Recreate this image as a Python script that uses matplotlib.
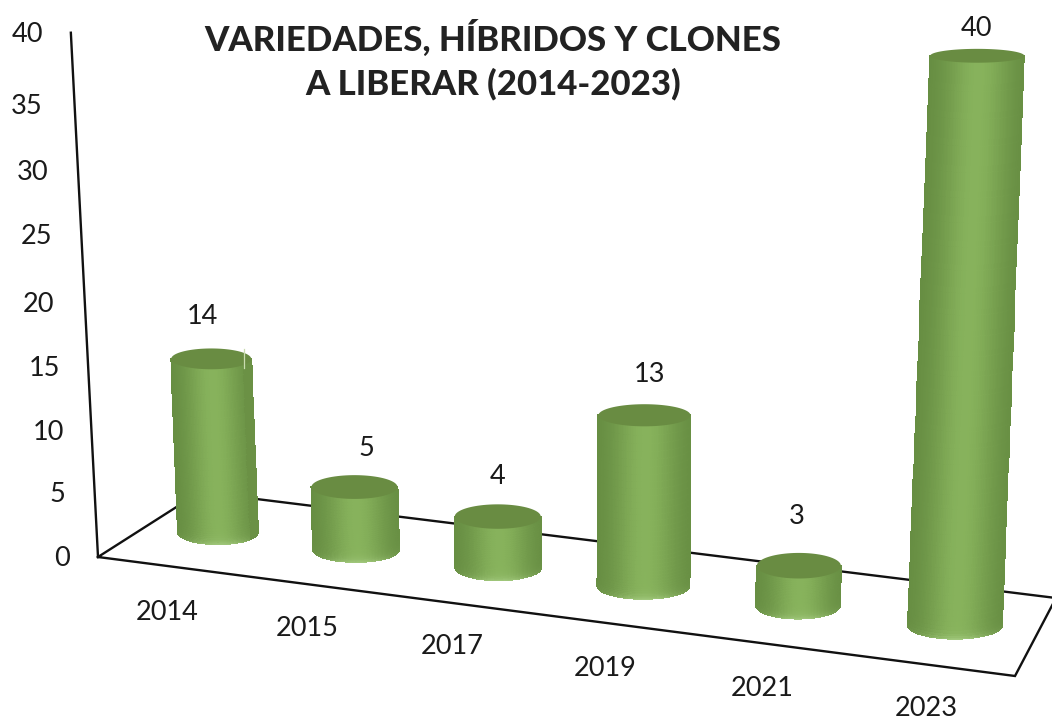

import numpy as np
import matplotlib
matplotlib.use('Agg')
import matplotlib.pyplot as plt

# chart data
years = ['2014', '2015', '2017', '2019', '2021', '2023']
values = [14, 5, 4, 13, 3, 40]
y_ticks = [0, 5, 10, 15, 20, 25, 30, 35, 40]
title = 'VARIEDADES, HÍBRIDOS Y CLONES\nA LIBERAR (2014-2023)'

# where the text sits in the picture
y_tick_x = [62, 57, 48, 44, 38, 37, 33, 27, 27]
y_tick_y = [558, 495, 432, 368, 304, 236, 172, 107, 34]
year_x = [167, 307, 452, 605, 762, 926]
year_y = [612, 629, 647, 668, 689, 709]
label_x = [202, 366, 498, 650, 797, 976]
label_y = [316, 448, 476, 374, 516, 28]

# bars on the floor (fraction of the front edge) and their half widths
bar_u = [0.0805, 0.2435, 0.4080, 0.5724, 0.7435, 0.9134]
bar_rx = [40, 43, 43, 46, 42, 47]

# floor corners on screen: front left, front right, back right, back left
floor_px = [(98, 557), (1015, 676), (1056, 598), (200, 492)]
vanish = (587, 10000)
z_scale = 0.0526 / 40
z_gain = 0.07   # bars get a bit taller toward the right

SIDE_L = np.array([0.39, 0.54, 0.25])
SIDE_M = np.array([0.53, 0.70, 0.36])
LIP = np.array([0.64, 0.79, 0.50])
CAP = np.array([0.41, 0.55, 0.26])
STRIP = np.array([0.42, 0.57, 0.27])


def floor_matrix(corners):
    # homography from the unit floor square to the screen
    src = [(0, 0), (1, 0), (1, 1), (0, 1)]
    A = []
    b = []
    for (u, v), (x, y) in zip(src, corners):
        A.append([u, v, 1, 0, 0, 0, -u*x, -v*x])
        A.append([0, 0, 0, u, v, 1, -u*y, -v*y])
        b += [x, y]
    h = np.linalg.solve(np.array(A, float), np.array(b, float))
    return np.append(h, 1).reshape(3, 3)


H = floor_matrix(floor_px)
Vz = -z_scale * np.array([vanish[0], vanish[1], 1.0])


def project(u, v, z):
    p = H @ np.array([u, v, 1.0]) + Vz * z * (1 + z_gain * u)
    return p[0] / p[2], p[1] / p[2]


def flatness(y):
    # the ellipses get flatter the higher they are
    return 7 + (y - 62) * 0.0115


def cylinder(ax, i, val):
    u = bar_u[i]
    x0, y0 = project(u, 0.5, 0)
    x1, y1 = project(u, 0.5, val)
    rx = bar_rx[i]
    ry0 = flatness(y0)
    ry1 = flatness(y1)

    theta = np.linspace(np.pi, 0, 81)
    t = np.linspace(0, 1, 41) ** 2
    tt, th = np.meshgrid(t, theta, indexing='ij')
    X = (x0 + (x1-x0)*tt) + rx * np.cos(th)
    Y = (y0 + (y1-y0)*tt) + (ry0 + (ry1-ry0)*tt) * np.sin(th)

    # colour per cell: dark at the sides, light a bit right of the middle
    s = (np.cos(theta[:-1]) + np.cos(theta[1:])) / 2
    shade = np.exp(-((s - 0.05) / 0.68) ** 2)
    C = np.zeros((len(t)-1, len(theta)-1, 3))
    tmid = (t[:-1] + t[1:]) / 2
    height_px = abs(y1 - y0)
    for r, tm in enumerate(tmid):
        row = SIDE_L + (SIDE_M - SIDE_L) * shade[:, None]
        lip = np.exp(-(tm * height_px) / 3.5) * shade[:, None]
        C[r] = row + (LIP - row) * lip
    if i == 0:
        # the 2014 bar has a flat strip on its right side in the source
        C[:, s > 0.80] = STRIP
    ax.pcolormesh(X, Y, C, shading='flat', edgecolors='face', linewidth=0.3,
                  zorder=3 + i)

    a = np.linspace(0, 2*np.pi, 90)
    ax.fill(x1 + rx*np.cos(a), y1 + ry1*np.sin(a), color=CAP, lw=0, zorder=3 + i)
    if i == 0:
        ax.plot([x1 + 0.82*rx, x1 + 0.82*rx], [y1 - 0.9*ry1, y1 + 0.9*ry1],
                color='#c9dcb0', lw=0.9, zorder=3 + i)


fig = plt.figure(figsize=(10.52, 7.23), dpi=100)
ax = fig.add_axes([0, 0, 1, 1])
ax.set_xlim(0, 1052)
ax.set_ylim(723, 0)
ax.axis('off')

# floor and value axis
loop = [(0, 0), (1, 0), (1, 1), (0, 1), (0, 0)]
pts = [project(u, v, 0) for u, v in loop]
ax.plot([p[0] for p in pts], [p[1] for p in pts], color='#111111', lw=1.7,
        solid_joinstyle='miter', zorder=1)
top = project(0, 0, max(y_ticks))
ax.plot([floor_px[0][0], top[0]], [floor_px[0][1], top[1]], color='#111111',
        lw=1.7, zorder=1)

for i in range(len(values)):
    cylinder(ax, i, values[i])

font = ['Lato', 'DejaVu Sans']
for i in range(len(y_ticks)):
    ax.text(y_tick_x[i], y_tick_y[i], str(y_ticks[i]), ha='center', va='center',
            fontsize=19.5, family=font, color='#1a1a1a')
for i in range(len(years)):
    ax.text(year_x[i], year_y[i], years[i], ha='center', va='center',
            fontsize=19.5, family=font, color='#1a1a1a')
    ax.text(label_x[i], label_y[i], str(values[i]), ha='center', va='center',
            fontsize=19.5, family=font, color='#1a1a1a')

ax.text(493, 60, title, ha='center', va='center', fontsize=25, family=font,
        fontweight='black', color='#222222', linespacing=1.42)

fig.savefig('out.png', dpi=100)
